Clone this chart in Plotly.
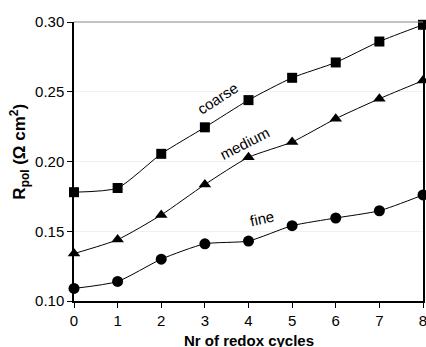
import plotly.graph_objects as go

cycles = [0, 1, 2, 3, 4, 5, 6, 7, 8]
coarse = [0.178, 0.181, 0.2055, 0.2245, 0.244, 0.260, 0.271, 0.286, 0.298]
medium = [0.134, 0.144, 0.1617, 0.1835, 0.203, 0.214, 0.2307, 0.245, 0.258]
fine = [0.109, 0.114, 0.130, 0.141, 0.143, 0.154, 0.1595, 0.1647, 0.176]

labels = ["coarse", "medium", "fine"]
label_x = [3.28, 3.9, 4.31]
label_y = [0.2453, 0.213, 0.159]
label_angle = [-33, -27, -12]

FONT = "Liberation Sans, Arial, sans-serif"

fig = go.Figure()
for vals, sym, sz in [(coarse, "square", 10), (medium, "triangle-up", 11), (fine, "circle", 11)]:
    fig.add_trace(go.Scatter(
        x=cycles, y=vals, mode="lines+markers",
        line=dict(color="black", width=1, shape="spline", smoothing=0.6),
        marker=dict(symbol=sym, size=sz, color="black"),
        showlegend=False, cliponaxis=False,
    ))

for t, x, y, a in zip(labels, label_x, label_y, label_angle):
    fig.add_annotation(x=x, y=y, text=t, textangle=a, showarrow=False,
                       font=dict(family=FONT, size=15, color="black"))

fig.add_annotation(xref="paper", yref="paper", x=-0.155, y=0.535, xanchor="center", yanchor="middle",
                   text="<b>R<sub>pol</sub> (Ω cm<sup>2</sup>)</b>",
                   textangle=-90, showarrow=False, font=dict(family=FONT, size=17, color="black"))
fig.add_annotation(xref="paper", yref="paper", x=0.5, y=-0.105, xanchor="center", yanchor="top",
                   text="<b>Nr of redox cycles</b>",
                   showarrow=False, font=dict(family=FONT, size=15, color="black"))

fig.add_shape(type="line", xref="paper", yref="paper", x0=0, x1=1, y0=1, y1=1,
              line=dict(color="#888888", width=1.2))

fig.update_layout(
    width=426, height=347,
    margin=dict(l=74, r=3, t=22, b=46),
    plot_bgcolor="white", paper_bgcolor="white",
    font=dict(family=FONT, size=15, color="black"),
    xaxis=dict(range=[0, 8], tickvals=cycles, ticks="outside", ticklen=5, tickcolor="black",
               showline=True, linecolor="black", linewidth=1.5, showgrid=False, zeroline=False,
               automargin=False, ticklabeloverflow="allow"),
    yaxis=dict(range=[0.10, 0.30], dtick=0.05, tickformat=".2f", ticks="outside", ticklen=5,
               tickcolor="black", showline=True, linecolor="black", linewidth=1.5, mirror=True,
               showgrid=True, gridcolor="#f0f0f0", gridwidth=1, zeroline=False,
               automargin=False),
)

fig.write_html("out.html", config={"displayModeBar": False},
               post_script="document.body.style.margin='0';document.body.style.overflow='hidden';")
